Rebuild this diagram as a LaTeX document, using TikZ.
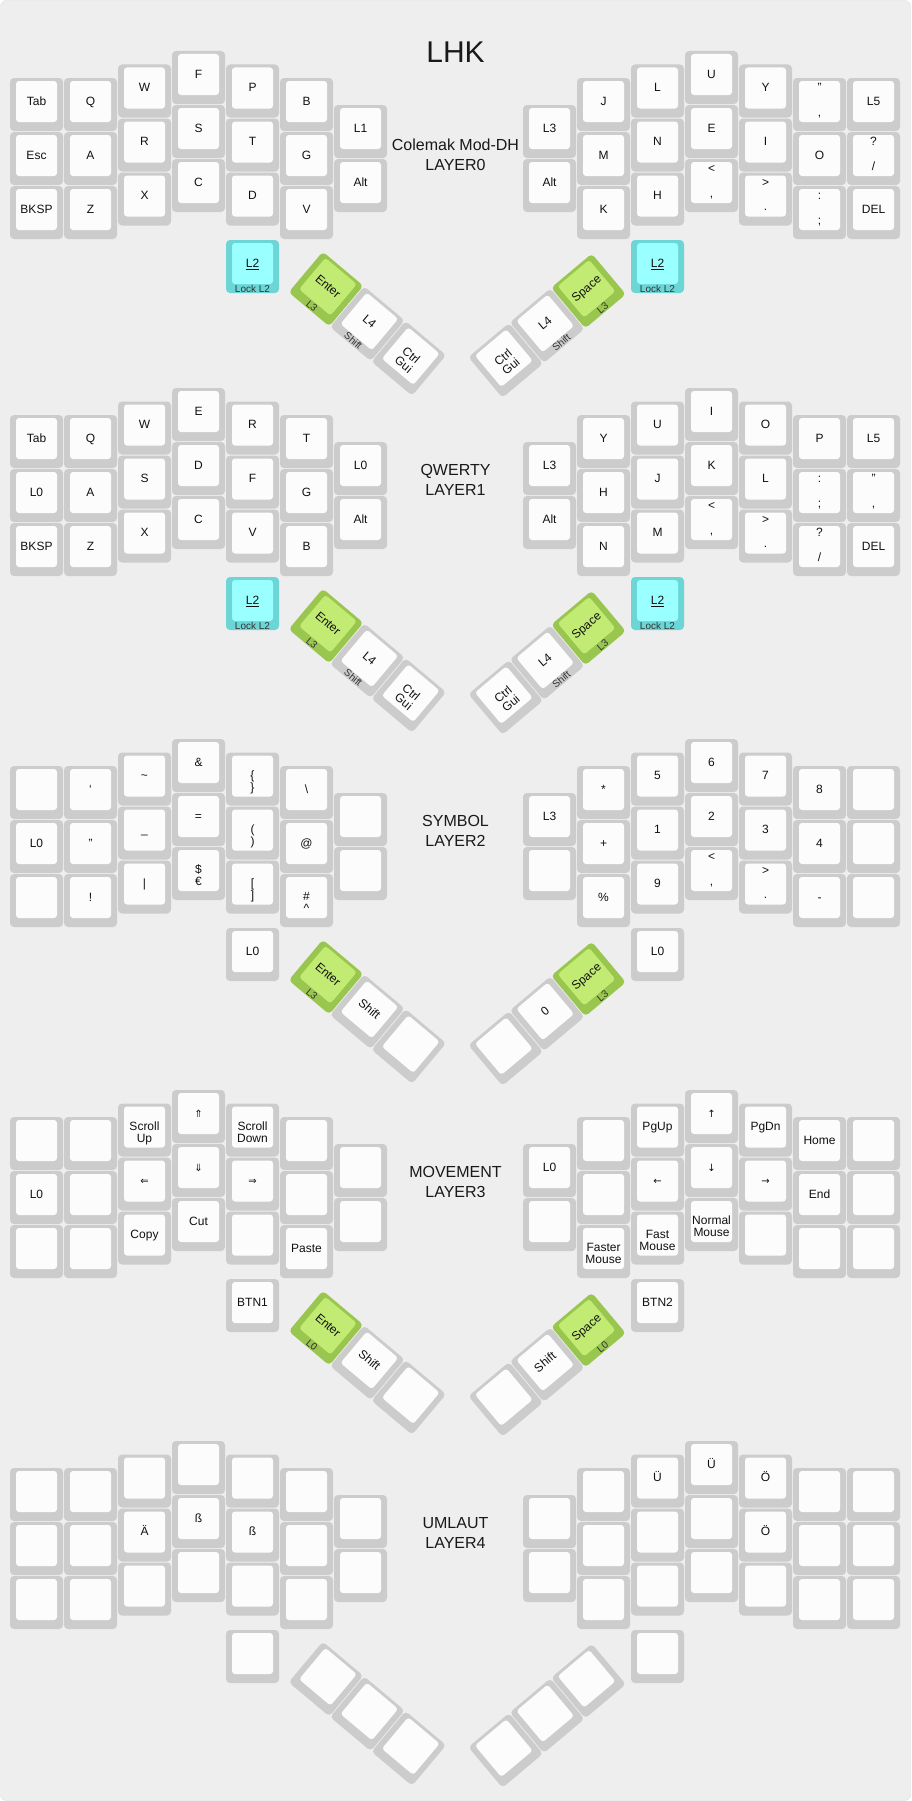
\documentclass[tikz,border=0pt]{standalone}
\usepackage{fontspec}
\setmainfont{Liberation Sans}
\newfontfamily\djv{DejaVu Sans}
\definecolor{bg}{HTML}{EEEEEE}
\definecolor{edge}{HTML}{DDDDDD}
\definecolor{kout}{HTML}{CCCCCC}
\definecolor{kin}{HTML}{FCFCFC}
\definecolor{cout}{HTML}{6CD6D6}
\definecolor{cin}{HTML}{99FFFF}
\definecolor{gout}{HTML}{99C64E}
\definecolor{gin}{HTML}{C2EB74}
\definecolor{ink}{HTML}{111111}
\newcounter{kc}
\tikzset{
  lbl/.style={font=\fontsize{12}{12}\selectfont, text=ink, inner sep=0pt, text height=8.6pt, text depth=0pt, anchor=center},
  lbltwo/.style={font=\fontsize{12}{12}\selectfont, text=ink, inner sep=0pt, align=center, anchor=center},
  frt/.style={font=\fontsize{10}{10}\selectfont, text=black!80, inner sep=0pt, text height=7.2pt, text depth=0pt, anchor=center},
  ttl/.style={font=\fontsize{16}{16}\selectfont, text=black!90, anchor=base, inner sep=0pt},
}
% unrotated keys
\newcommand\keybase[2]{%
  \fill[#1,rounded corners=4pt] (\kx,\ky) rectangle ++(53,53);
  \fill[#2,rounded corners=3pt] (\kx+6,\ky+3) rectangle ++(41,41);}
\newcommand\KEY[3]{\pgfmathsetmacro\kx{10+54*(#1)}\pgfmathsetmacro\ky{54*(#2)}\keybase{kout}{kin}#3}
\newcommand\CKEY[3]{\pgfmathsetmacro\kx{10+54*(#1)}\pgfmathsetmacro\ky{54*(#2)}\keybase{cout}{cin}#3}
\newcommand\KL[1]{\stepcounter{kc}\node[lbl] (k\thekc) at (\kx+26.5,\ky+23) {#1};}
\newcommand\KF[1]{\stepcounter{kc}\node[frt] (k\thekc) at (\kx+26.5,\ky+48.5) {#1};}
\newcommand\KTB[2]{\stepcounter{kc}\node[lbl] (k\thekc) at (\kx+26.5,\ky+9.5) {#1};%
  \stepcounter{kc}\node[lbl] (k\thekc) at (\kx+26.5,\ky+34) {#2};}
\newcommand\KTW[2]{\stepcounter{kc}\node[lbl] (k\thekc) at (\kx+26.5,\ky+22.5) {#1};%
  \stepcounter{kc}\node[lbl] (k\thekc) at (\kx+26.5,\ky+34.5) {#2};}
% rotated keys
\newcommand\RK[6]{\def\kang{#3}\begin{scope}[shift={(#1,#2)},rotate=#3]
  \fill[#4,rounded corners=4pt] (-26.5,-26.5) rectangle (26.5,26.5);
  \fill[#5,rounded corners=3pt] (-20.5,-23.5) rectangle (20.5,17.5);
  #6
  \end{scope}}
\newcommand\RL[1]{\stepcounter{kc}\node[lbl,rotate=\kang] (k\thekc) at (0,-3.5) {#1};}
\newcommand\RF[1]{\stepcounter{kc}\node[frt,rotate=\kang] (k\thekc) at (0,22) {#1};}
\newcommand\RT[2]{\stepcounter{kc}\node[lbltwo,rotate=\kang] (k\thekc) at (0,2) {#1\\#2};}
\newcommand\AR[1]{{\djv\fontsize{10}{10}\selectfont #1}}
% thumb clusters: #1 outer colour, #2 inner colour of the first key
\newcommand\LTHUMB[5]{%
  \RK{326}{211}{-40}{#1}{#2}{#3}
  \RK{367.4}{245.7}{-40}{kout}{kin}{#4}
  \RK{408.8}{280.4}{-40}{kout}{kin}{#5}}
\newcommand\RTHUMB[5]{%
  \RK{588.5}{213}{40}{#1}{#2}{#3}
  \RK{547.1}{247.7}{40}{kout}{kin}{#4}
  \RK{505.7}{282.4}{40}{kout}{kin}{#5}}

\begin{document}
\begin{tikzpicture}[x=1pt,y=-1pt]
\useasboundingbox (0,0) rectangle (911,1801);
\fill[white] (0,0) rectangle (911,1801);
\draw[fill=bg,draw=edge,rounded corners=6pt] (0.5,0.5) rectangle (910.5,1800.5);
\node[font=\fontsize{30}{30}\selectfont, anchor=base, inner sep=0pt, text=black!90] (title) at (455.5,63) {LHK};

% ---------------- LAYER 0 ----------------
\begin{scope}[shift={(0,78)}]
\node[ttl] (t0a) at (455.5,72.7) {Colemak Mod-DH};
\node[ttl] (t0b) at (455.5,92.7) {LAYER0};
\KEY{0}{0}{\KL{Tab}} \KEY{0}{1}{\KL{Esc}} \KEY{0}{2}{\KL{BKSP}}
\KEY{1}{0}{\KL{Q}} \KEY{1}{1}{\KL{A}} \KEY{1}{2}{\KL{Z}}
\KEY{2}{-.25}{\KL{W}} \KEY{2}{.75}{\KL{R}} \KEY{2}{1.75}{\KL{X}}
\KEY{3}{-.5}{\KL{F}} \KEY{3}{.5}{\KL{S}} \KEY{3}{1.5}{\KL{C}}
\KEY{4}{-.25}{\KL{P}} \KEY{4}{.75}{\KL{T}} \KEY{4}{1.75}{\KL{D}}
\KEY{5}{0}{\KL{B}} \KEY{5}{1}{\KL{G}} \KEY{5}{2}{\KL{V}}
\KEY{6}{.5}{\KL{L1}} \KEY{6}{1.5}{\KL{Alt}}
\KEY{9.5}{.5}{\KL{L3}} \KEY{9.5}{1.5}{\KL{Alt}}
\KEY{10.5}{0}{\KL{J}} \KEY{10.5}{1}{\KL{M}} \KEY{10.5}{2}{\KL{K}}
\KEY{11.5}{-.25}{\KL{L}} \KEY{11.5}{.75}{\KL{N}} \KEY{11.5}{1.75}{\KL{H}}
\KEY{12.5}{-.5}{\KL{U}} \KEY{12.5}{.5}{\KL{E}} \KEY{12.5}{1.5}{\KTB{<}{,}}
\KEY{13.5}{-.25}{\KL{Y}} \KEY{13.5}{.75}{\KL{I}} \KEY{13.5}{1.75}{\KTB{>}{.}}
\KEY{14.5}{0}{\KTB{"}{,}} \KEY{14.5}{1}{\KL{O}} \KEY{14.5}{2}{\KTB{:}{;}}
\KEY{15.5}{0}{\KL{L5}} \KEY{15.5}{1}{\KTB{?}{/}} \KEY{15.5}{2}{\KL{DEL}}
\CKEY{4}{3}{\KL{\underline{L2}}\KF{Lock L2}}
\CKEY{11.5}{3}{\KL{\underline{L2}}\KF{Lock L2}}
\LTHUMB{gout}{gin}{\RL{Enter}\RF{L3}}{\RL{L4}\RF{Shift}}{\RT{Ctrl}{Gui}}
\RTHUMB{gout}{gin}{\RL{Space}\RF{L3}}{\RL{L4}\RF{Shift}}{\RT{Ctrl}{Gui}}
\end{scope}

% ---------------- LAYER 1 ----------------
\begin{scope}[shift={(0,415)}]
\node[ttl] (t1a) at (455.5,60) {QWERTY};
\node[ttl] (t1b) at (455.5,80) {LAYER1};
\KEY{0}{0}{\KL{Tab}} \KEY{0}{1}{\KL{L0}} \KEY{0}{2}{\KL{BKSP}}
\KEY{1}{0}{\KL{Q}} \KEY{1}{1}{\KL{A}} \KEY{1}{2}{\KL{Z}}
\KEY{2}{-.25}{\KL{W}} \KEY{2}{.75}{\KL{S}} \KEY{2}{1.75}{\KL{X}}
\KEY{3}{-.5}{\KL{E}} \KEY{3}{.5}{\KL{D}} \KEY{3}{1.5}{\KL{C}}
\KEY{4}{-.25}{\KL{R}} \KEY{4}{.75}{\KL{F}} \KEY{4}{1.75}{\KL{V}}
\KEY{5}{0}{\KL{T}} \KEY{5}{1}{\KL{G}} \KEY{5}{2}{\KL{B}}
\KEY{6}{.5}{\KL{L0}} \KEY{6}{1.5}{\KL{Alt}}
\KEY{9.5}{.5}{\KL{L3}} \KEY{9.5}{1.5}{\KL{Alt}}
\KEY{10.5}{0}{\KL{Y}} \KEY{10.5}{1}{\KL{H}} \KEY{10.5}{2}{\KL{N}}
\KEY{11.5}{-.25}{\KL{U}} \KEY{11.5}{.75}{\KL{J}} \KEY{11.5}{1.75}{\KL{M}}
\KEY{12.5}{-.5}{\KL{I}} \KEY{12.5}{.5}{\KL{K}} \KEY{12.5}{1.5}{\KTB{<}{,}}
\KEY{13.5}{-.25}{\KL{O}} \KEY{13.5}{.75}{\KL{L}} \KEY{13.5}{1.75}{\KTB{>}{.}}
\KEY{14.5}{0}{\KL{P}} \KEY{14.5}{1}{\KTB{:}{;}} \KEY{14.5}{2}{\KTB{?}{/}}
\KEY{15.5}{0}{\KL{L5}} \KEY{15.5}{1}{\KTB{"}{,}} \KEY{15.5}{2}{\KL{DEL}}
\CKEY{4}{3}{\KL{\underline{L2}}\KF{Lock L2}}
\CKEY{11.5}{3}{\KL{\underline{L2}}\KF{Lock L2}}
\LTHUMB{gout}{gin}{\RL{Enter}\RF{L3}}{\RL{L4}\RF{Shift}}{\RT{Ctrl}{Gui}}
\RTHUMB{gout}{gin}{\RL{Space}\RF{L3}}{\RL{L4}\RF{Shift}}{\RT{Ctrl}{Gui}}
\end{scope}

% ---------------- LAYER 2 ----------------
\begin{scope}[shift={(0,766)}]
\node[ttl] (t2a) at (455.5,60) {SYMBOL};
\node[ttl] (t2b) at (455.5,80) {LAYER2};
\KEY{0}{0}{} \KEY{0}{1}{\KL{L0}} \KEY{0}{2}{}
\KEY{1}{0}{\KL{\symbol{96}}} \KEY{1}{1}{\KL{"}} \KEY{1}{2}{\KL{!}}
\KEY{2}{-.25}{\KL{\symbol{126}}} \KEY{2}{.75}{\KL{\symbol{95}}} \KEY{2}{1.75}{\KL{|}}
\KEY{3}{-.5}{\KL{\&}} \KEY{3}{.5}{\KL{=}} \KEY{3}{1.5}{\KTW{\$}{€}}
\KEY{4}{-.25}{\KTW{\symbol{123}}{\symbol{125}}} \KEY{4}{.75}{\KTW{(}{)}} \KEY{4}{1.75}{\KTW{[}{]}}
\KEY{5}{0}{\KL{\symbol{92}}} \KEY{5}{1}{\KL{@}} \KEY{5}{2}{\KTW{\#}{\symbol{94}}}
\KEY{6}{.5}{} \KEY{6}{1.5}{}
\KEY{9.5}{.5}{\KL{L3}} \KEY{9.5}{1.5}{}
\KEY{10.5}{0}{\KL{*}} \KEY{10.5}{1}{\KL{+}} \KEY{10.5}{2}{\KL{\%}}
\KEY{11.5}{-.25}{\KL{5}} \KEY{11.5}{.75}{\KL{1}} \KEY{11.5}{1.75}{\KL{9}}
\KEY{12.5}{-.5}{\KL{6}} \KEY{12.5}{.5}{\KL{2}} \KEY{12.5}{1.5}{\KTB{<}{,}}
\KEY{13.5}{-.25}{\KL{7}} \KEY{13.5}{.75}{\KL{3}} \KEY{13.5}{1.75}{\KTB{>}{.}}
\KEY{14.5}{0}{\KL{8}} \KEY{14.5}{1}{\KL{4}} \KEY{14.5}{2}{\KL{-}}
\KEY{15.5}{0}{} \KEY{15.5}{1}{} \KEY{15.5}{2}{}
\KEY{4}{3}{\KL{L0}}
\KEY{11.5}{3}{\KL{L0}}
\LTHUMB{gout}{gin}{\RL{Enter}\RF{L3}}{\RL{Shift}}{}
\RTHUMB{gout}{gin}{\RL{Space}\RF{L3}}{\RL{0}}{}
\end{scope}

% ---------------- LAYER 3 ----------------
\begin{scope}[shift={(0,1117)}]
\node[ttl] (t3a) at (455.5,60) {MOVEMENT};
\node[ttl] (t3b) at (455.5,80) {LAYER3};
\KEY{0}{0}{} \KEY{0}{1}{\KL{L0}} \KEY{0}{2}{}
\KEY{1}{0}{} \KEY{1}{1}{} \KEY{1}{2}{}
\KEY{2}{-.25}{\KTW{Scroll}{Up}} \KEY{2}{.75}{\KL{\AR{⇐}}} \KEY{2}{1.75}{\KL{Copy}}
\KEY{3}{-.5}{\KL{\AR{⇑}}} \KEY{3}{.5}{\KL{\AR{⇓}}} \KEY{3}{1.5}{\KL{Cut}}
\KEY{4}{-.25}{\KTW{Scroll}{Down}} \KEY{4}{.75}{\KL{\AR{⇒}}} \KEY{4}{1.75}{}
\KEY{5}{0}{} \KEY{5}{1}{} \KEY{5}{2}{\KL{Paste}}
\KEY{6}{.5}{} \KEY{6}{1.5}{}
\KEY{9.5}{.5}{\KL{L0}} \KEY{9.5}{1.5}{}
\KEY{10.5}{0}{} \KEY{10.5}{1}{} \KEY{10.5}{2}{\KTW{Faster}{Mouse}}
\KEY{11.5}{-.25}{\KL{PgUp}} \KEY{11.5}{.75}{\KL{\AR{←}}} \KEY{11.5}{1.75}{\KTW{Fast}{Mouse}}
\KEY{12.5}{-.5}{\KL{\AR{↑}}} \KEY{12.5}{.5}{\KL{\AR{↓}}} \KEY{12.5}{1.5}{\KTW{Normal}{Mouse}}
\KEY{13.5}{-.25}{\KL{PgDn}} \KEY{13.5}{.75}{\KL{\AR{→}}} \KEY{13.5}{1.75}{}
\KEY{14.5}{0}{\KL{Home}} \KEY{14.5}{1}{\KL{End}} \KEY{14.5}{2}{}
\KEY{15.5}{0}{} \KEY{15.5}{1}{} \KEY{15.5}{2}{}
\KEY{4}{3}{\KL{BTN1}}
\KEY{11.5}{3}{\KL{BTN2}}
\LTHUMB{gout}{gin}{\RL{Enter}\RF{L0}}{\RL{Shift}}{}
\RTHUMB{gout}{gin}{\RL{Space}\RF{L0}}{\RL{Shift}}{}
\end{scope}

% ---------------- LAYER 4 ----------------
\begin{scope}[shift={(0,1468)}]
\node[ttl] (t4a) at (455.5,60) {UMLAUT};
\node[ttl] (t4b) at (455.5,80) {LAYER4};
\KEY{0}{0}{} \KEY{0}{1}{} \KEY{0}{2}{}
\KEY{1}{0}{} \KEY{1}{1}{} \KEY{1}{2}{}
\KEY{2}{-.25}{} \KEY{2}{.75}{\KL{Ä}} \KEY{2}{1.75}{}
\KEY{3}{-.5}{} \KEY{3}{.5}{\KL{ß}} \KEY{3}{1.5}{}
\KEY{4}{-.25}{} \KEY{4}{.75}{\KL{ß}} \KEY{4}{1.75}{}
\KEY{5}{0}{} \KEY{5}{1}{} \KEY{5}{2}{}
\KEY{6}{.5}{} \KEY{6}{1.5}{}
\KEY{9.5}{.5}{} \KEY{9.5}{1.5}{}
\KEY{10.5}{0}{} \KEY{10.5}{1}{} \KEY{10.5}{2}{}
\KEY{11.5}{-.25}{\KL{Ü}} \KEY{11.5}{.75}{} \KEY{11.5}{1.75}{}
\KEY{12.5}{-.5}{\KL{Ü}} \KEY{12.5}{.5}{} \KEY{12.5}{1.5}{}
\KEY{13.5}{-.25}{\KL{Ö}} \KEY{13.5}{.75}{\KL{Ö}} \KEY{13.5}{1.75}{}
\KEY{14.5}{0}{} \KEY{14.5}{1}{} \KEY{14.5}{2}{}
\KEY{15.5}{0}{} \KEY{15.5}{1}{} \KEY{15.5}{2}{}
\KEY{4}{3}{}
\KEY{11.5}{3}{}
\LTHUMB{kout}{kin}{}{}{}
\RTHUMB{kout}{kin}{}{}{}
\end{scope}
\end{tikzpicture}
\end{document}
